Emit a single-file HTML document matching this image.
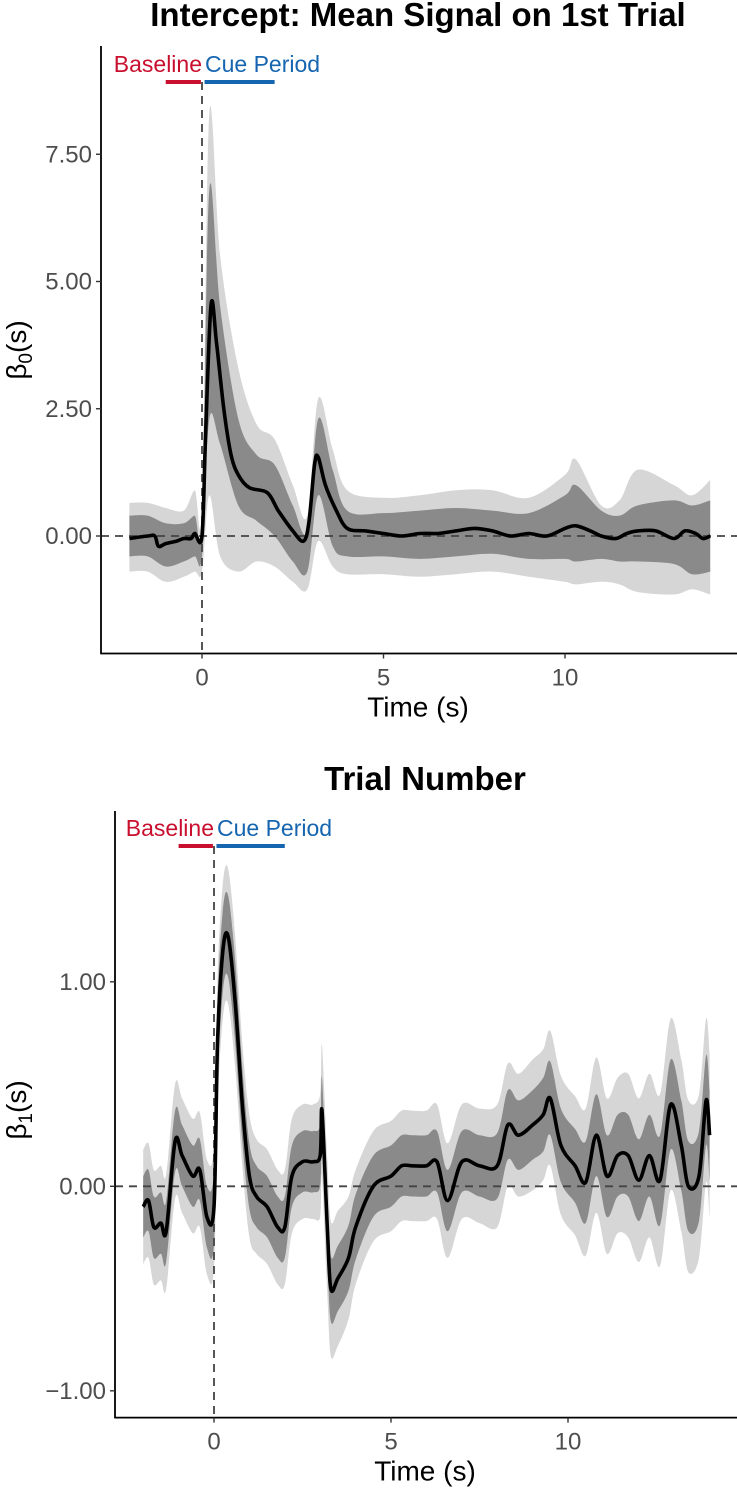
<!DOCTYPE html>
<html><head><meta charset="utf-8"><style>
body{margin:0;background:#fff}
svg{display:block;font-family:"Liberation Sans",sans-serif}
</style></head><body>
<svg id="c" width="737" height="1500" viewBox="0 0 737 1500"></svg>
<script>
// ---- Panel 1 data (intercept) ----
const t1 = [-2,-1.5,-1.3,-1.2,-1,-0.7,-0.5,-0.3,-0.2,0,0.1,0.25,0.4,0.6,0.8,1.0,1.3,1.8,2.1,2.5,2.8,2.95,3.1,3.2,3.4,3.7,4.0,4.5,5,5.5,6,6.5,7,7.5,8,8.5,9,9.5,10,10.3,10.7,11,11.4,11.7,12,12.5,13,13.3,13.6,13.8,14];
const mean1 = [-0.05,0.0,0.0,-0.2,-0.15,-0.1,-0.05,-0.05,0.05,0.0,2.0,4.55,3.8,2.5,1.6,1.2,0.95,0.85,0.5,0.1,-0.1,0.3,1.4,1.55,1.0,0.5,0.15,0.1,0.05,0.0,0.05,0.05,0.1,0.15,0.1,0.0,0.05,0.0,0.15,0.2,0.1,0.0,-0.05,0.05,0.1,0.1,-0.05,0.1,0.05,-0.05,0.0];
const bt1 = [-2,-1.5,-1,-0.5,-0.2,0,0.2,0.5,1,1.5,2,2.5,2.9,3.2,3.6,4,5,6,7,8,9,10,10.3,11,11.5,12,13,13.5,14];
const lightHi1 = [0.65,0.65,0.55,0.5,0.9,0.6,8.3,5.5,3.3,2.2,1.9,1.0,0.4,2.7,1.7,0.9,0.75,0.8,0.9,0.9,0.75,1.2,1.5,0.6,0.7,1.3,1.0,0.8,1.1];
const darkHi1 = [0.4,0.4,0.25,0.25,0.4,0.3,6.8,4.5,2.3,1.6,1.4,0.6,0.1,2.3,1.3,0.5,0.45,0.5,0.55,0.5,0.45,0.8,1.0,0.5,0.4,0.6,0.7,0.6,0.7];
const darkLo1 = [-0.4,-0.4,-0.6,-0.5,-0.4,-0.4,2.3,1.8,0.6,0.3,0.0,-0.5,-0.7,0.8,-0.2,-0.4,-0.4,-0.45,-0.4,-0.35,-0.45,-0.45,-0.5,-0.45,-0.5,-0.5,-0.55,-0.75,-0.7];
const lightLo1 = [-0.7,-0.7,-0.9,-0.8,-0.7,-0.7,0.8,-0.4,-0.7,-0.5,-0.6,-0.9,-1.05,-0.1,-0.6,-0.75,-0.75,-0.8,-0.75,-0.7,-0.8,-0.9,-0.95,-0.9,-0.95,-1.1,-1.15,-1.05,-1.15];
const yTicks1 = [7.5,5,2.5,0];
const yTickLabels1 = ["7.50","5.00","2.50","0.00"];
const xTicks = [0,5,10];
// ---- Panel 2 data (trial number) ----
const t2 = [-2,-1.85,-1.7,-1.5,-1.35,-1.1,-0.9,-0.6,-0.4,-0.2,0,0.1,0.25,0.4,0.6,0.8,1.0,1.2,1.5,1.8,2.0,2.2,2.5,2.8,3.0,3.05,3.2,3.3,3.5,3.8,4.0,4.5,5.0,5.3,5.6,6,6.3,6.6,7,7.5,8,8.3,8.6,9,9.3,9.5,9.8,10.2,10.5,10.8,11.1,11.4,11.7,12,12.3,12.6,12.9,13.2,13.4,13.7,13.9,14];
const mean2 = [-0.1,-0.07,-0.2,-0.18,-0.22,0.22,0.15,0.05,0.08,-0.15,-0.1,0.7,1.15,1.22,0.9,0.4,0.05,-0.05,-0.1,-0.2,-0.2,0.05,0.12,0.12,0.15,0.37,-0.2,-0.5,-0.45,-0.35,-0.2,0.0,0.05,0.1,0.1,0.1,0.12,-0.07,0.12,0.1,0.1,0.3,0.25,0.3,0.35,0.43,0.2,0.1,0.02,0.25,0.05,0.15,0.15,0.03,0.15,0.03,0.4,0.2,0.0,0.05,0.42,0.25];
const darkHW2 = [0.15,0.15,0.15,0.15,0.15,0.15,0.15,0.15,0.15,0.15,0.18,0.2,0.2,0.2,0.2,0.18,0.16,0.15,0.15,0.15,0.15,0.15,0.15,0.15,0.15,0.16,0.16,0.16,0.16,0.16,0.16,0.15,0.15,0.15,0.15,0.15,0.15,0.15,0.15,0.15,0.16,0.17,0.17,0.17,0.18,0.18,0.18,0.18,0.2,0.2,0.2,0.2,0.2,0.2,0.2,0.22,0.22,0.22,0.22,0.22,0.22,0.22];
const lightHW2 = [0.28,0.28,0.28,0.28,0.28,0.28,0.28,0.28,0.28,0.28,0.3,0.32,0.33,0.33,0.32,0.3,0.3,0.28,0.28,0.28,0.28,0.28,0.28,0.28,0.3,0.32,0.33,0.33,0.33,0.3,0.28,0.27,0.27,0.27,0.27,0.27,0.28,0.28,0.28,0.28,0.3,0.3,0.3,0.32,0.32,0.33,0.34,0.34,0.36,0.38,0.38,0.38,0.4,0.4,0.4,0.42,0.42,0.42,0.42,0.4,0.4,0.4];
const yTicks2 = [1,0,-1];
const yTickLabels2 = ["1.00","0.00","\u22121.00"];

const svg = document.getElementById('c');
const NS = 'http://www.w3.org/2000/svg';
function mk(tag, attrs, parent){const e=document.createElementNS(NS,tag);for(const k in attrs)e.setAttribute(k,attrs[k]);(parent||svg).appendChild(e);return e;}
function smooth(pts){let d='M'+pts[0][0].toFixed(1)+','+pts[0][1].toFixed(1);
 for(let i=0;i<pts.length-1;i++){const p0=pts[i-1]||pts[i],p1=pts[i],p2=pts[i+1],p3=pts[i+2]||p2;
  const c1=[p1[0]+(p2[0]-p0[0])/6,p1[1]+(p2[1]-p0[1])/6],c2=[p2[0]-(p3[0]-p1[0])/6,p2[1]-(p3[1]-p1[1])/6];
  d+=' C'+c1[0].toFixed(1)+','+c1[1].toFixed(1)+' '+c2[0].toFixed(1)+','+c2[1].toFixed(1)+' '+p2[0].toFixed(1)+','+p2[1].toFixed(1);}
 return d;}
function band(xs,hi,lo,X,Y){const up=xs.map((t,i)=>[X(t),Y(hi[i])]);const dn=xs.map((t,i)=>[X(t),Y(lo[i])]).reverse();
 let d=smooth(up);d+=' L'+smooth(dn).slice(1)+' Z';return d;}

function panel(cfg){
 const X=t=>cfg.x0+(t)*cfg.xs, Y=v=>cfg.y0-v*cfg.ys;
 const g=mk('g',{});
 
 
 const title=mk('text',{x:cfg.tx,y:cfg.ty,'text-anchor':'middle','font-size':cfg.tfs,'font-weight':'bold',fill:'#000'},g);
 title.textContent=cfg.title;
 
 
 const lb=mk('path',{d:band(cfg.bt,cfg.lHi,cfg.lLo,X,Y),fill:'#d6d6d6'},g);
 
 
 const db=mk('path',{d:band(cfg.bt,cfg.dHi,cfg.dLo,X,Y),fill:'#8a8a8a'},g);
 
 
 const z=mk('line',{x1:cfg.ax,x2:737,y1:Y(0),y2:Y(0),stroke:'#444','stroke-width':1.8,'stroke-dasharray':'8,6'},g);
 
 
 const vl=mk('line',{x1:X(0),x2:X(0),y1:cfg.barY,y2:cfg.axY,stroke:'#444','stroke-width':1.8,'stroke-dasharray':'8,6'},g);
 
 
 const ln=mk('path',{d:smooth(cfg.t.map((t,i)=>[X(t),Y(cfg.m[i])])),fill:'none',stroke:'#000','stroke-width':3.6,'stroke-linejoin':'round'},g);
 
 
 const rb=mk('line',{x1:X(-1),x2:X(-0.03),y1:cfg.barY,y2:cfg.barY,stroke:'#c8102e','stroke-width':4},g);
 
 
 const bb=mk('line',{x1:X(0.07),x2:X(2),y1:cfg.barY,y2:cfg.barY,stroke:'#1565b0','stroke-width':4},g);
 
 
 const bt=mk('text',{x:X(0),y:cfg.barY-10,'text-anchor':'end','font-size':23,fill:'#c8102e'},g);
 bt.textContent='Baseline';
 
 
 const ct=mk('text',{x:X(0)+3,y:cfg.barY-10,'font-size':23,fill:'#1565b0'},g);
 ct.textContent='Cue Period';
 
 
 const ya=mk('line',{x1:cfg.ax,x2:cfg.ax,y1:cfg.axTop,y2:cfg.axY+0.8,stroke:'#000','stroke-width':1.8},g);
 
 
 const xa=mk('line',{x1:cfg.ax,x2:737,y1:cfg.axY,y2:cfg.axY,stroke:'#000','stroke-width':1.8},g);
 
 
 cfg.yT.forEach((v,i)=>{
  const tk=mk('line',{x1:cfg.ax-5,x2:cfg.ax,y1:Y(v),y2:Y(v),stroke:'#333','stroke-width':1.4},g);
  
  
  const tl=mk('text',{x:cfg.ax-9,y:Y(v)+8,'text-anchor':'end','font-size':24,fill:'#4d4d4d'},g);
  tl.textContent=cfg.yL[i];
  
  
 });
 xTicks.forEach(v=>{
  const tk=mk('line',{x1:X(v),x2:X(v),y1:cfg.axY,y2:cfg.axY+5,stroke:'#333','stroke-width':1.4},g);
  
  
  const tl=mk('text',{x:X(v),y:cfg.axY+32,'text-anchor':'middle','font-size':24,fill:'#4d4d4d'},g);
  tl.textContent=String(v);
  
  
 });
 const xt=mk('text',{x:cfg.tx,y:cfg.axY+63,'text-anchor':'middle','font-size':28,fill:'#000'},g);
 xt.textContent='Time (s)';
 
 
 const yt=mk('text',{x:0,y:0,'text-anchor':'middle','font-size':28,fill:'#000',transform:'translate('+cfg.ylx+','+cfg.yly+') rotate(-90)'},g);
 yt.innerHTML='\u03B2<tspan font-size="19" dy="6">'+cfg.sub+'</tspan><tspan dy="-6">(s)</tspan>';
 
 
}
panel({name:'intercept-panel',title:'Intercept: Mean Signal on 1st Trial',tfs:33,tx:418,ty:26,x0:202,xs:36.3,y0:536,ys:50.9,
 ax:101,axY:653.5,axTop:46,barY:82,t:t1,m:mean1,bt:bt1,lHi:lightHi1,lLo:lightLo1,dHi:darkHi1,dLo:darkLo1,
 yT:yTicks1,yL:yTickLabels1,ylx:26,yly:350,sub:'0'});
panel({name:'trial-number-panel',title:'Trial Number',tfs:33,tx:425,ty:790,x0:214,xs:35.4,y0:1186.3,ys:204.5,
 ax:115,axY:1417.6,axTop:811,barY:846,t:t2,m:mean2,bt:t2,
 lHi:mean2.map((v,i)=>v+lightHW2[i]),lLo:mean2.map((v,i)=>v-lightHW2[i]),
 dHi:mean2.map((v,i)=>v+darkHW2[i]),dLo:mean2.map((v,i)=>v-darkHW2[i]),
 yT:yTicks2,yL:yTickLabels2,ylx:26,yly:1110,sub:'1'});
</script>
</body></html>
